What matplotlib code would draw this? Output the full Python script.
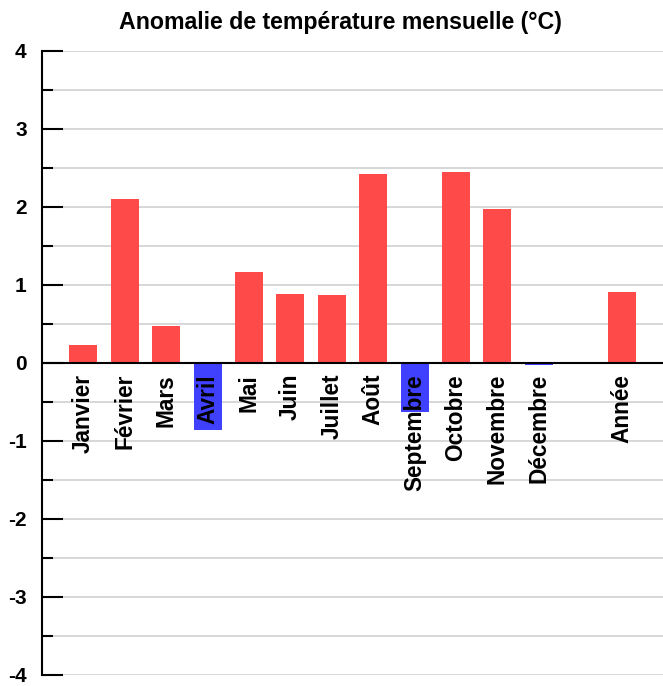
import matplotlib
matplotlib.use("Agg")
import matplotlib.pyplot as plt
from matplotlib.ticker import MultipleLocator

plt.rcParams["font.family"] = ["Liberation Sans", "DejaVu Sans"]
plt.rcParams["axes.unicode_minus"] = False

labels = ["Janvier", "Février", "Mars", "Avril", "Mai", "Juin", "Juillet",
          "Août", "Septembre", "Octobre", "Novembre", "Décembre", "Année"]
positions = [1, 2, 3, 4, 5, 6, 7, 8, 9, 10, 11, 12, 14]
anomalies = [0.23, 2.10, 0.47, -0.86, 1.17, 0.88, 0.87,
             2.42, -0.63, 2.45, 1.97, -0.02, 0.91]

red = "#ff4a4a"
blue = "#4040ff"
colors = [red if v >= 0 else blue for v in anomalies]

fig = plt.figure(figsize=(6.63, 6.86), dpi=100)
ax = fig.add_axes([42 / 663, 11 / 686, 1 - 42 / 663, 624 / 686])

ax.bar(positions, anomalies, width=0.68, color=colors, zorder=2)
ax.axhline(0, color="black", lw=1.5, zorder=3)

# month names sit under the zero line, inside the plot
for x, lab in zip(positions, labels):
    ax.text(x, -0.14, lab, rotation=90, ha="center", va="top",
            fontsize=16.3, fontweight="bold", zorder=4)

ax.set_xlim(0, 15)
ax.set_ylim(-4, 4)
ax.yaxis.set_major_locator(MultipleLocator(1))
ax.yaxis.set_minor_locator(MultipleLocator(0.5))
ax.grid(True, which="both", axis="y", color="#d4d4d4", lw=1.3, zorder=0)
ax.set_xticks([])
ax.tick_params(axis="y", which="major", direction="in", length=15, width=1.5,
               pad=11, labelsize=15)
ax.tick_params(axis="y", which="minor", direction="in", length=8, width=1.5)
for t in ax.get_yticklabels():
    t.set_fontweight("bold")

for side in ["top", "right", "bottom"]:
    ax.spines[side].set_visible(False)
ax.spines["left"].set_linewidth(1.5)

fig.text(340 / 663, 1 - 22 / 686, "Anomalie de température mensuelle (°C)",
         ha="center", va="center", fontsize=16.7, fontweight="bold")

fig.savefig("out.png", dpi=100)
